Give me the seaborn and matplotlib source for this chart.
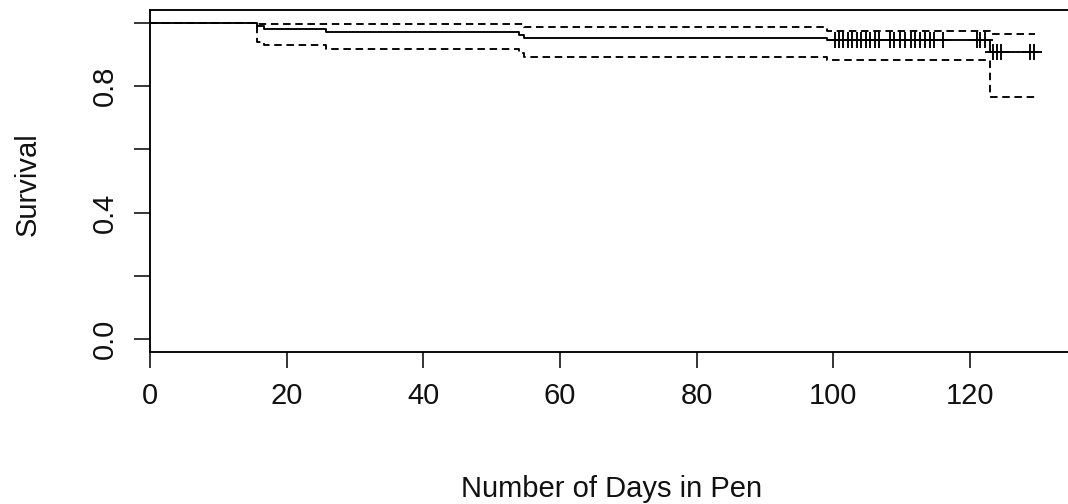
import numpy as np
import pandas as pd
import matplotlib
matplotlib.use("Agg")
import matplotlib.pyplot as plt
import seaborn as sns

# Kaplan-Meier estimate with 95% confidence band (step functions)
km_time = [0, 15.7, 16.7, 25.7, 54.0, 54.7, 99.0, 122.9, 129.5]
km_surv = [1.0, 0.991, 0.981, 0.970, 0.962, 0.953, 0.944, 0.907, 0.907]
ci_upper = [1.0, 0.997, 0.997, 0.997, 0.997, 0.985, 0.973, 0.963, 0.963]
ci_lower = [1.0, 0.940, 0.930, 0.918, 0.905, 0.893, 0.882, 0.766, 0.766]

# Censored observations (days in pen)
censor_time = [100.2, 100.8, 101.4, 102.1, 102.7, 103.4, 104.0, 104.7, 105.3,
               106.1, 106.6, 108.3, 108.9, 109.8, 110.5, 111.3, 111.9, 112.7,
               113.4, 114.2, 114.7, 116.1, 121.0, 121.5, 122.2,
               123.4, 123.9, 124.5, 128.8, 129.4]

x_ticks = [0, 20, 40, 60, 80, 100, 120]
y_ticks = [0.0, 0.2, 0.4, 0.6, 0.8, 1.0]
y_ticklabels = ["0.0", "", "0.4", "", "0.8", ""]

sns.set_style("white")
plt.rcParams["font.family"] = ["Liberation Sans", "DejaVu Sans"]

W, H = 1068, 504
fig = plt.figure(figsize=(W / 100, H / 100), dpi=100)
ax = fig.add_axes([150 / W, 1 - 352 / H, 924 / W, 342 / H])

km = pd.DataFrame({"time": km_time, "surv": km_surv,
                   "upper": ci_upper, "lower": ci_lower})

lw = 1.35
sns.lineplot(data=km, x="time", y="surv", ax=ax, color="black", lw=lw,
             drawstyle="steps-post", estimator=None, sort=False)
for col in ["upper", "lower"]:
    sns.lineplot(data=km, x="time", y=col, ax=ax, color="black", lw=lw,
                 drawstyle="steps-post", estimator=None, sort=False,
                 linestyle=(0, (4, 2.5)))

# censor marks sit on the survival curve
idx = np.searchsorted(np.array(km_time), np.array(censor_time), side="right") - 1
cens = pd.DataFrame({"time": censor_time, "surv": np.array(km_surv)[idx]})
sns.scatterplot(data=cens, x="time", y="surv", ax=ax, marker="+", s=121,
                color="black", linewidth=1.35, zorder=3)

ax.set_xlim(0, 135.2)
ax.set_ylim(-0.04, 1.04)
ax.set_xticks(x_ticks)
ax.set_yticks(y_ticks)
ax.set_yticklabels(y_ticklabels, rotation=90, va="center")
ax.tick_params(axis="both", direction="out", length=11.5, width=1.1,
               color="black", labelsize=21, labelcolor="#111111",
               bottom=True, left=True)
ax.tick_params(axis="x", pad=10)
ax.tick_params(axis="y", pad=11)
for s in ax.spines.values():
    s.set_color("black")
    s.set_linewidth(1.35)

ax.set_xlabel("Number of Days in Pen", fontsize=21, color="#111111")
ax.set_ylabel("Survival", fontsize=21, color="#111111")
ax.xaxis.set_label_coords(0.5, -(475 - 352) / 342)
ax.yaxis.set_label_coords(-(150 - 42) / 924, (352 - 184) / 342)

fig.savefig("out.png", dpi=100, facecolor="white")
